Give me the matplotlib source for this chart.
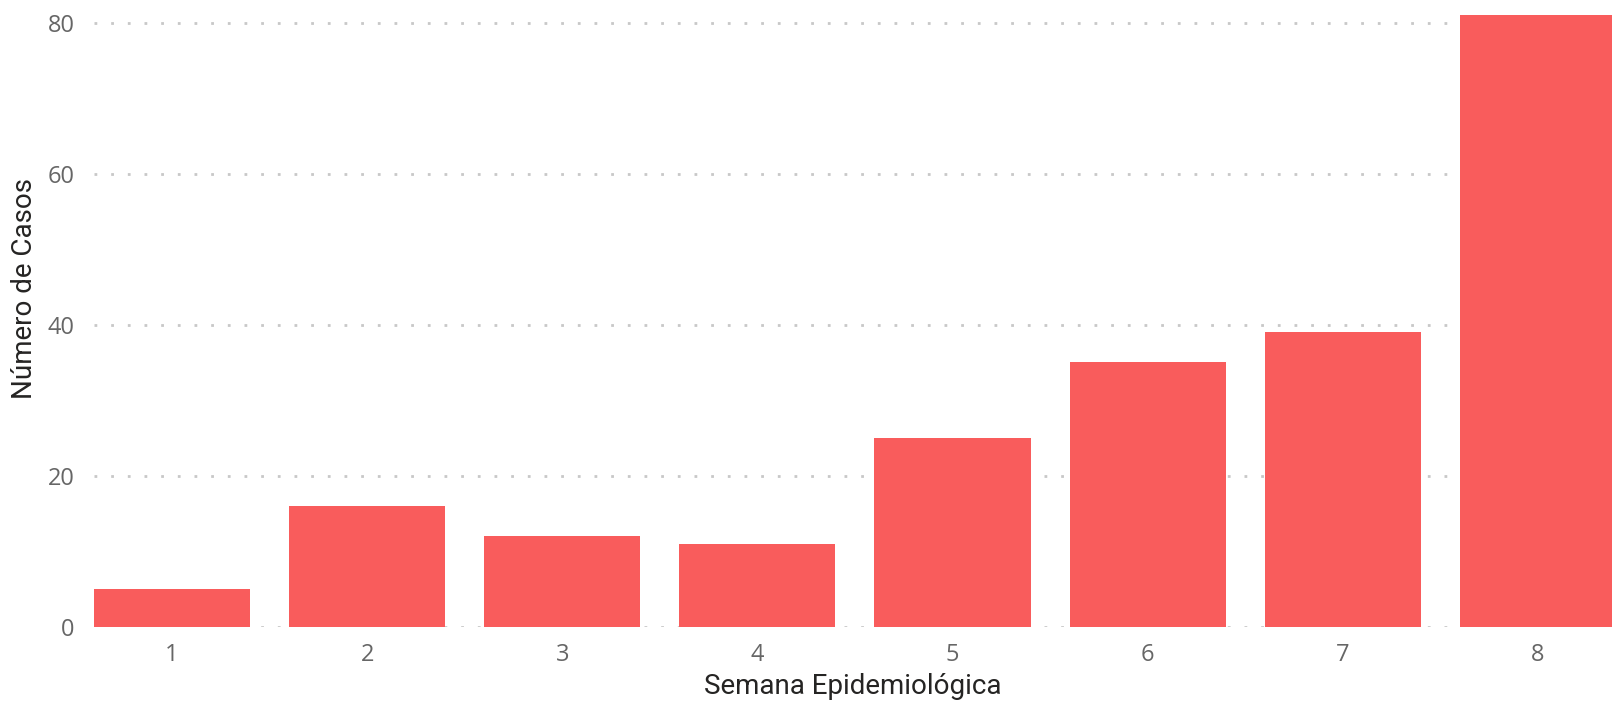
import matplotlib
matplotlib.use('Agg')
import matplotlib.pyplot as plt

semanas = [1, 2, 3, 4, 5, 6, 7, 8]
casos = [5, 16, 12, 11, 25, 35, 39, 81]
ticks_y = [0, 20, 40, 60, 80]

W, H = 1612, 701
fig = plt.figure(figsize=(W / 100, H / 100), dpi=100)
ax = fig.add_axes([94 / W, 74.3 / H, (W - 94) / W, 626.7 / H])

ax.bar(semanas, casos, width=0.8, color='#F95C5C', zorder=3)
ax.set_xlim(0.6, 8.38)
ax.set_ylim(0, 83.0)

ax.set_yticks(ticks_y)
ax.set_xticks(semanas)
ax.grid(axis='y', color='#c8c8c8', linewidth=2, linestyle=(0, (1, 5)), zorder=0)
ax.grid(axis='x', visible=False)
for s in ax.spines.values():
    s.set_visible(False)
ax.tick_params(length=0, labelsize=17, labelcolor='#666666')
ax.tick_params(axis='y', pad=14)
ax.tick_params(axis='x', pad=12)
for lab in ax.get_xticklabels() + ax.get_yticklabels():
    lab.set_family('Open Sans')

# axis titles placed by hand, centred on their anchor
ax.set_xlabel('Semana Epidemiológica', fontsize=20, color='#252423',
              family='Roboto', va='center')
ax.xaxis.set_label_coords(0.5, -0.095)
ax.set_ylabel('Número de Casos', fontsize=20, color='#252423',
              family='Roboto', va='center')
ax.yaxis.set_label_coords(-0.046, 0.54)

fig.savefig('out.png', dpi=100)
